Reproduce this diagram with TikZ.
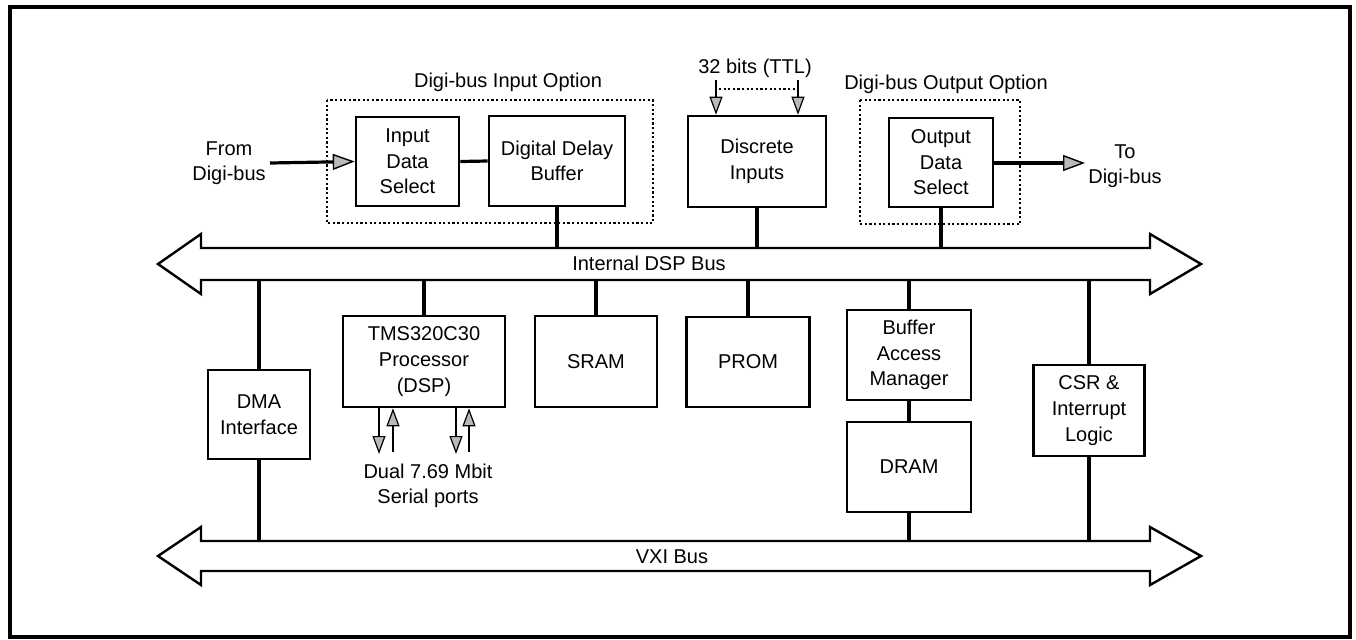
\documentclass[tikz,border=0pt]{standalone}
\usepackage{fontspec}
\setmainfont{Liberation Sans}
\usetikzlibrary{arrows.meta,calc}
\newcommand\dfont{\fontsize{10}{12.8}\selectfont}
\begin{document}
\begin{tikzpicture}[x=0.5pt,y=-0.5pt,
  blk/.style 2 args={draw,line width=1.3pt,minimum width=#1*0.5pt,minimum height=#2*0.5pt,inner sep=0pt,align=center,font=\dfont},
  lbl/.style={inner sep=0pt,align=center,font=\dfont},
  conn/.style={line width=1.6pt},
  bus/.style={draw,line width=1.2pt,fill=white,line join=miter},
  dotbox/.style={line width=1.3pt,dash pattern=on 1.1pt off 1.2pt},
  thick arrow/.style={line width=1.6pt,-{Triangle[length=11pt,width=8pt,fill=gray!55,line width=0.7pt]}},
  thin arrow/.style={line width=1pt,-{Triangle[length=9pt,width=6.5pt,fill=gray!55,line width=0.6pt]}}]
\useasboundingbox (0,0) rectangle (1356,639);
\draw[line width=2pt] (10,7) rectangle (1350,637);

% buses
\draw[bus] (158,264) -- (201,234) -- (201,248) -- (1150,248) -- (1150,234) -- (1201,264) -- (1150,294) -- (1150,280) -- (201,280) -- (201,294) -- cycle;
\draw[bus] (158,556) -- (201,527) -- (201,541) -- (1150,541) -- (1150,527) -- (1201,556) -- (1150,585) -- (1150,571) -- (201,571) -- (201,585) -- cycle;
\coordinate (ibt) at (0,248);
\coordinate (ibb) at (0,280);
\coordinate (vbt) at (0,541);
\coordinate (vbb) at (0,571);
\node[lbl] (iblab) at (649,263) {Internal DSP Bus};
\node[lbl] (vxlab) at (672,557) {VXI Bus};

% top option boxes
\draw[dotbox] (327,100) rectangle (653,223);
\node[lbl] (inopt) at (508,82) {Digi-bus Input Option};
\draw[dotbox] (860,100) rectangle (1020,224);
\node[lbl] (outopt) at (946,84) {Digi-bus Output Option};

\node[blk={103}{89}] (ids) at (407.5,161.5) {Input\\Data\\Select};
\node[blk={136}{90}] (ddb) at (557,161) {Digital Delay\\Buffer};
\node[blk={138}{91}] (disc) at (757,161.5) {Discrete\\Inputs};
\node[blk={104}{89}] (ods) at (941,162.5) {Output\\Data\\Select};

\node[lbl] (from) at (229,163) {From\\Digi-bus};
\node[lbl] (to) at (1125,166) {To\\Digi-bus};
\node[lbl] (bits) at (755,68) {32 bits (TTL)};

\coordinate (fromend) at (270,163);
\coordinate (toend) at (1085,163);
\draw[thick arrow] (fromend) -- (ids.west);
\draw[conn] (ids.east) -- (ddb.west);
\draw[thick arrow] (ods.east |- toend) -- (toend);

\coordinate (b1) at (716,80);
\coordinate (b2) at (798,80);
\draw[thin arrow] (b1) -- (b1 |- disc.north);
\draw[thin arrow] (b2) -- (b2 |- disc.north);
\draw[dotbox,line width=1.1pt] ($(b1)+(3,9)$) -- ($(b2)+(-3,9)$);

\draw[conn] (ddb.south) -- (ddb.south |- ibt);
\draw[conn] (disc.south) -- (disc.south |- ibt);
\draw[conn] (ods.south) -- (ods.south |- ibt);

% lower blocks
\node[blk={102}{89}] (dma) at (259,414.5) {DMA\\Interface};
\node[blk={162}{91}] (tms) at (424,361.5) {TMS320C30\\Processor\\(DSP)};
\node[blk={122}{91}] (sram) at (596,361.5) {SRAM};
\node[blk={123}{90}] (prom) at (748,362) {PROM};
\node[blk={124}{90}] (bam) at (909,355) {Buffer\\Access\\Manager};
\node[blk={124}{90}] (dram) at (909,467) {DRAM};
\node[blk={111}{91}] (csr) at (1089,410.5) {CSR \&\\Interrupt\\Logic};

\draw[conn] (dma.north) -- (dma.north |- ibb);
\draw[conn] (dma.south) -- (dma.south |- vbt);
\draw[conn] (tms.north) -- (tms.north |- ibb);
\draw[conn] (sram.north) -- (sram.north |- ibb);
\draw[conn] (prom.north) -- (prom.north |- ibb);
\draw[conn] (bam.north) -- (bam.north |- ibb);
\draw[conn] (bam.south) -- (dram.north);
\draw[conn] (dram.south) -- (dram.south |- vbt);
\draw[conn] (csr.north) -- (csr.north |- ibb);
\draw[conn] (csr.south) -- (csr.south |- vbt);

% serial ports
\coordinate (s1) at (379,454);
\coordinate (s2) at (393,452);
\coordinate (s3) at (456,454);
\coordinate (s4) at (469,452);
\draw[thin arrow] (s1 |- tms.south) -- (s1);
\draw[thin arrow] (s2) -- (s2 |- tms.south);
\draw[thin arrow] (s3 |- tms.south) -- (s3);
\draw[thin arrow] (s4) -- (s4 |- tms.south);
\node[lbl] (serial) at (428,486) {Dual 7.69 Mbit\\Serial ports};
\end{tikzpicture}
\end{document}
